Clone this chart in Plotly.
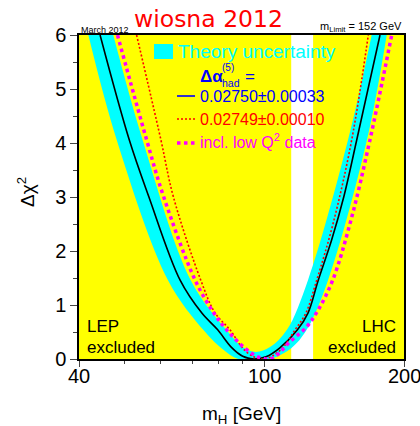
import math
import plotly.graph_objects as go

# ---- data ----
lep_excl = [40, 114.4]
lhc_excl = [127.5, 200]

black_m = [44.4, 51.3, 56.5, 66.0, 73.5, 79.5, 85.0, 90.0, 95.0, 101.0, 108.0, 118.0, 124.3, 130.8, 139.7, 148.5, 158.3, 177.6]
black_d = [6.0, 4.06, 3.01, 1.46, 0.85, 0.54, 0.22, 0.05, 0.0, 0.04, 0.20, 0.54, 0.85, 1.46, 2.2, 3.01, 4.06, 6.0]

band_lo_m = [41.9, 48.2, 62.15, 74.0, 81.0, 88.0, 95.0, 103.0, 114.4, 123.5, 137.3, 166.5, 183.6]
band_lo_d = [6.0, 4.06, 1.46, 0.54, 0.2, 0.0, 0.0, 0.0, 0.2, 0.54, 1.46, 4.06, 6.0]
band_hi_m = [47.4, 54.8, 69.55, 83.0, 90.0, 96.0, 103.0, 112.0, 124.3, 151.6, 170.4]
band_hi_d = [6.0, 4.06, 1.46, 0.54, 0.22, 0.13, 0.22, 0.54, 1.46, 4.06, 6.0]

red_m = [53.2, 60.0, 63.8, 73.1, 78.5, 84.5, 90.0, 95.0, 99.5, 104.0, 110.0, 116.6, 123.0, 129.8, 140.7, 154.4, 167.6]
red_d = [6.0, 4.06, 3.01, 1.46, 0.85, 0.54, 0.2, 0.04, 0.0, 0.05, 0.22, 0.54, 0.85, 1.46, 2.5, 4.06, 6.0]

mag_m = [48.4, 55.9, 60.8, 71.1, 78.0, 83.1, 91.0, 97.0, 103.0, 107.5, 112.8, 123.6, 130.8, 140.5, 154.1, 169.0, 188.2]
mag_d = [6.0, 4.06, 3.01, 1.46, 0.85, 0.54, 0.2, 0.04, 0.0, 0.1, 0.29, 0.6, 0.91, 1.46, 2.6, 4.06, 6.0]

x_tickvals = [40, 100, 200]
x_ticktext = ["40", "100", "200"]
x_minor = [50, 60, 70, 80, 90]
y_tickvals = [0, 1, 2, 3, 4, 5, 6]

CYAN = "#00ffff"
YEL = "#ffff00"
RED = "#ff0000"
MAG = "#ff00ff"
BLUE = "#0000ff"
FONT = "Liberation Sans"

FIG_W, FIG_H = 420, 426

fig = go.Figure()

# theory band
fig.add_trace(go.Scatter(x=band_hi_m, y=band_hi_d, mode="lines", line=dict(width=0, color=CYAN, shape="spline"),
                         showlegend=False, hoverinfo="skip"))
fig.add_trace(go.Scatter(x=band_lo_m, y=band_lo_d, mode="lines", line=dict(width=0, color=CYAN, shape="spline"),
                         fill="tonexty", fillcolor=CYAN, showlegend=False, hoverinfo="skip"))
# curves
fig.add_trace(go.Scatter(x=black_m, y=black_d, mode="lines", line=dict(width=1.6, color="black", shape="spline"),
                         showlegend=False))
fig.add_trace(go.Scatter(x=red_m, y=red_d, mode="lines", line=dict(width=1.6, color=RED, shape="spline", dash="2px,2px"),
                         showlegend=False))
fig.add_trace(go.Scatter(x=mag_m, y=mag_d, mode="lines", line=dict(width=3.5, color=MAG, shape="spline", dash="3.5px,3.5px"),
                         showlegend=False))

shapes = []
for reg in (lep_excl, lhc_excl):
    shapes.append(dict(type="rect", xref="x", yref="paper", x0=reg[0], x1=reg[1], y0=0, y1=1,
                       fillcolor=YEL, line=dict(width=0), layer="below"))

# plot frame in page pixels
L, R, T, B = 79, 404, 35, 359
W, H = R - L, B - T
def px(x):
    return (x - L) / W
def py(y):
    return (B - y) / H

# legend samples
shapes.append(dict(type="rect", xref="paper", yref="paper", x0=px(154), x1=px(173), y0=py(59), y1=py(44),
                   fillcolor=CYAN, line=dict(width=0)))
shapes.append(dict(type="line", xref="paper", yref="paper", x0=px(177), x1=px(195), y0=py(96), y1=py(96),
                   line=dict(color=BLUE, width=1.6)))
shapes.append(dict(type="line", xref="paper", yref="paper", x0=px(177), x1=px(195), y0=py(119), y1=py(119),
                   line=dict(color=RED, width=1.6, dash="2px,2px")))
shapes.append(dict(type="line", xref="paper", yref="paper", x0=px(177), x1=px(195), y0=py(143), y1=py(143),
                   line=dict(color=MAG, width=3.5, dash="3.5px,3.5px")))

def ann(text, x, y, size, color="black", xanchor="left", yanchor="middle", family=FONT, angle=0):
    return dict(text=text, x=px(x), y=py(y), xref="paper", yref="paper", showarrow=False,
                xanchor=xanchor, yanchor=yanchor, textangle=angle,
                font=dict(size=size, color=color, family=family))

annotations = [
    ann("wiosna 2012", 208.5, 19, 23.5, RED, xanchor="center", family="DejaVu Sans"),
    ann("March 2012", 79, 30, 9),
    ann("m<sub>Limit</sub> = 152 GeV", 404, 27, 11, xanchor="right"),
    ann("Theory uncertainty", 176, 51, 19, CYAN),
    ann("<b>Δα</b>", 198, 76, 17, BLUE),
    ann("(5)", 220, 67.5, 10, BLUE),
    ann("had", 220, 83, 10.5, BLUE),
    ann("=", 243, 76, 17, BLUE),
    ann("0.02750±0.00033", 198, 97, 16, BLUE),
    ann("0.02749±0.00010", 198, 119, 16, RED),
    ann("incl. low Q<sup>2</sup> data", 198, 141, 16, MAG),
    ann("LEP", 85, 326, 17),
    ann("excluded", 85, 347, 17),
    ann("LHC", 398, 326, 17, xanchor="right"),
    ann("excluded", 398, 347, 17, xanchor="right"),
    ann("Δχ<sup>2</sup>", 26, 192, 19, angle=-90, xanchor="center"),
    ann("m<sub>H</sub> [GeV]", 241, 415, 19, xanchor="center"),
]
# x tick labels placed through the (log) x axis scale
for v, t in zip(x_tickvals, x_ticktext):
    annotations.append(dict(text=t, x=math.log10(v), y=py(376), xref="x", yref="paper", showarrow=False,
                            xanchor="center", yanchor="middle",
                            font=dict(size=20, family=FONT, color="black")))

fig.update_layout(
    width=FIG_W, height=FIG_H,
    margin=dict(l=L, r=FIG_W - R, t=T, b=FIG_H - B, autoexpand=False),
    paper_bgcolor="white", plot_bgcolor="white",
    shapes=shapes, annotations=annotations,
    showlegend=False,
    font=dict(family=FONT, color="black"),
)
fig.update_xaxes(type="log", range=[math.log10(40), math.log10(200)], tickmode="array", tickvals=x_tickvals,
                 showticklabels=False, ticks="outside", ticklen=6, tickwidth=1,
                 minor=dict(tickmode="array", tickvals=x_minor, ticks="outside", ticklen=3, tickwidth=1, showgrid=False),
                 showgrid=False, zeroline=False, showline=True, linecolor="black", linewidth=1.5, mirror=True)
fig.update_yaxes(range=[0, 6], tickmode="array", tickvals=y_tickvals, ticks="outside", ticklen=7, tickwidth=1,
                 minor=dict(dtick=0.5, ticks="outside", ticklen=4, tickwidth=1, showgrid=False),
                 showgrid=False, zeroline=False, showline=True, linecolor="black", linewidth=1.5, mirror=True,
                 tickfont=dict(size=20, family=FONT, color="black"))

# remove the default page margin so the figure sits at the window origin
fig.write_html("out.html", config={"displayModeBar": False},
               post_script="document.body.style.margin='0';document.documentElement.style.overflow='hidden';document.body.style.overflow='hidden';")
